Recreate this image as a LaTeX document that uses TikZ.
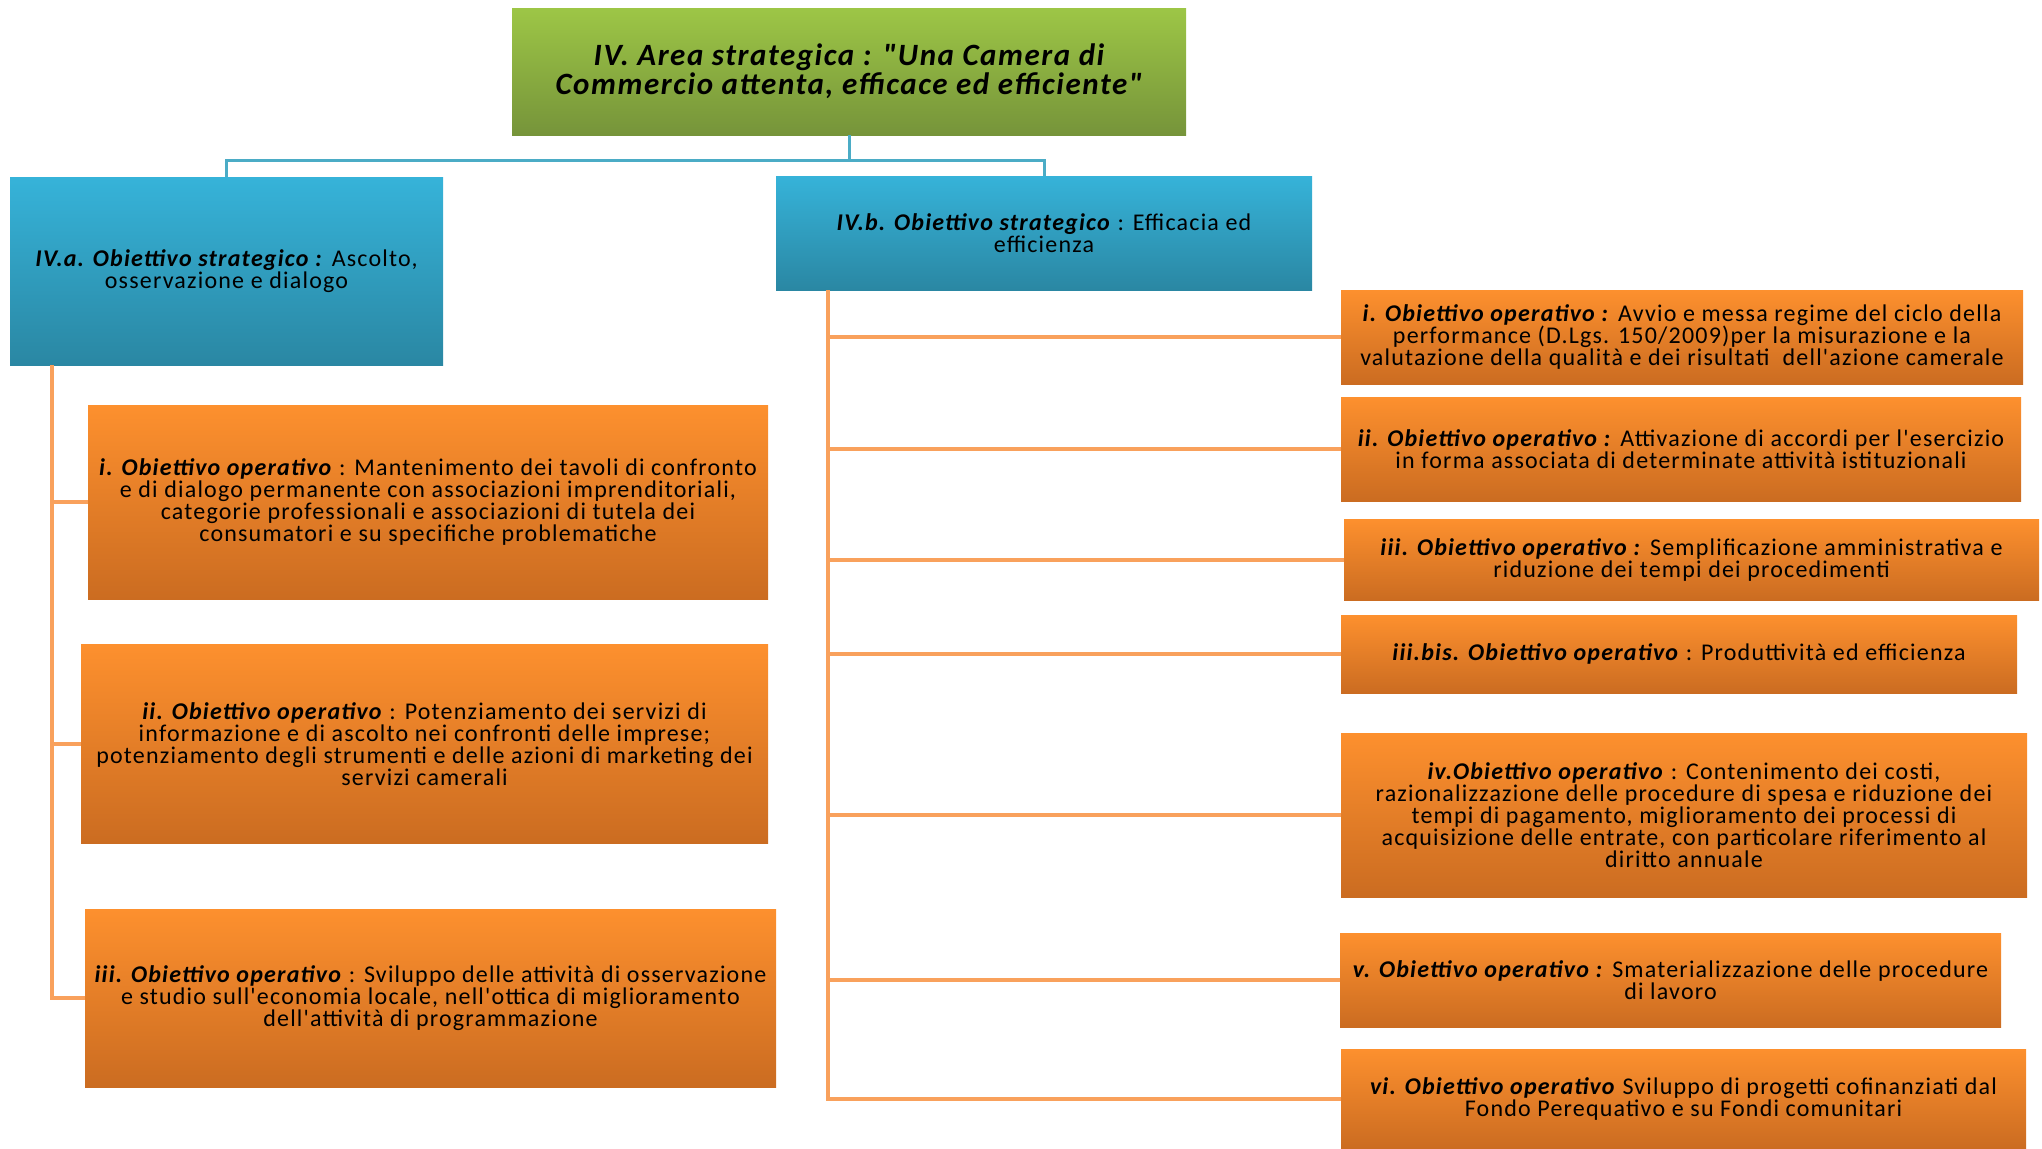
\documentclass[tikz,border=0pt]{standalone}
\usepackage{fontspec}
\setmainfont{Carlito}[Ligatures=TeXOff, LetterSpace=5]
\definecolor{grtop}{HTML}{9DC646}\definecolor{grbot}{HTML}{76943A}
\definecolor{bltop}{HTML}{36B3D9}\definecolor{blbot}{HTML}{2A87A3}
\definecolor{ortop}{HTML}{FD902E}\definecolor{orbot}{HTML}{CB6C21}
\definecolor{blline}{HTML}{4BACC6}\definecolor{orline}{HTML}{F9A15C}
\newcommand{\bfit}[1]{\textbf{\textit{#1}}}
\tikzset{
  box/.style={inner sep=0pt, align=center, font=\fontsize{12}{11}\selectfont},
  areabox/.style={box, top color=grtop, bottom color=grbot, font=\fontsize{15.5}{14.5}\selectfont\bfseries\itshape},
  stratbox/.style={box, top color=bltop, bottom color=blbot},
  opbox/.style={box, top color=ortop, bottom color=orbot},
  bline/.style={blline, line width=1.5pt},
  oline/.style={orline, line width=2pt}
}
\begin{document}
\begin{tikzpicture}[x=0.5pt,y=-0.5pt]
\useasboundingbox (0,0) rectangle (2042,1148);
\node[areabox, minimum width=337pt, minimum height=63.5pt] (area) at (849,71.5) {IV. Area strategica : "Una Camera di\\ Commercio attenta, efficace ed efficiente"};
\node[stratbox, minimum width=216.5pt, minimum height=94pt] (IVa) at (226.5,271) {\bfit{IV.a. Obiettivo strategico :} Ascolto,\\ osservazione e dialogo};
\node[stratbox, minimum width=268pt, minimum height=57pt] (IVb) at (1044,233) {\bfit{IV.b. Obiettivo strategico} : Efficacia ed\\ efficienza};
% obiettivi operativi IV.a
\node[opbox, minimum width=340pt, minimum height=97pt] (Li) at (428,502) {\bfit{i. Obiettivo operativo} : Mantenimento dei tavoli di confronto\\ e di dialogo permanente con associazioni imprenditoriali,\\ categorie professionali e associazioni di tutela dei\\ consumatori e su specifiche problematiche};
\node[opbox, minimum width=343.5pt, minimum height=99.5pt] (Lii) at (424.5,744) {\bfit{ii. Obiettivo operativo} : Potenziamento dei servizi di\\ informazione e di ascolto nei confronti delle imprese;\\ potenziamento degli strumenti e delle azioni di marketing dei\\ servizi camerali};
\node[opbox, minimum width=345.5pt, minimum height=89pt] (Liii) at (430.5,998) {\bfit{iii. Obiettivo operativo} : Sviluppo delle attività di osservazione\\ e studio sull'economia locale, nell'ottica di miglioramento\\ dell'attività di programmazione};
% obiettivi operativi IV.b
\node[opbox, minimum width=341pt, minimum height=47pt] (Ri) at (1682,337) {\bfit{i. Obiettivo operativo :} Avvio e messa regime del ciclo della\\ performance (D.Lgs. 150/2009)per la misurazione e la\\ valutazione della qualità e dei risultati \ dell'azione camerale};
\node[opbox, minimum width=340pt, minimum height=52pt] (Rii) at (1681,449) {\bfit{ii. Obiettivo operativo :} Attivazione di accordi per l'esercizio\\ in forma associata di determinate attività istituzionali};
\node[opbox, minimum width=347.5pt, minimum height=40.5pt] (Riii) at (1691.5,559.5) {\bfit{iii. Obiettivo operativo :} Semplificazione amministrativa e\\ riduzione dei tempi dei procedimenti};
\node[opbox, minimum width=338pt, minimum height=39pt] (Rbis) at (1679,654) {\bfit{iii.bis. Obiettivo operativo} : Produttività ed efficienza};
\node[opbox, minimum width=343pt, minimum height=82pt] (Riv) at (1684,815) {\bfit{iv.Obiettivo operativo} : Contenimento dei costi,\\ razionalizzazione delle procedure di spesa e riduzione dei\\ tempi di pagamento, miglioramento dei processi di\\ acquisizione delle entrate, con particolare riferimento al\\ diritto annuale};
\node[opbox, minimum width=330.5pt, minimum height=47pt] (Rv) at (1670.5,980) {\bfit{v. Obiettivo operativo :} Smaterializzazione delle procedure\\ di lavoro};
\node[opbox, minimum width=342.5pt, minimum height=49.5pt] (Rvi) at (1683.5,1098.5) {\bfit{vi. Obiettivo operativo} Sviluppo di progetti cofinanziati dal\\ Fondo Perequativo e su Fondi comunitari};
% connettori
\draw[bline] (area.south) -- ++(0,25) -| (IVa.north); \draw[bline] (area.south) -- ++(0,25) -| (IVb.north);
\foreach \n in {Li,Lii,Liii} { \draw[oline] ([xshift=21pt]IVa.south west) |- (\n.west); }
\foreach \n in {Ri,Rii,Riii,Rbis,Riv,Rv,Rvi} { \draw[oline] ([xshift=26pt]IVb.south west) |- (\n.west); }
\end{tikzpicture}
\end{document}
